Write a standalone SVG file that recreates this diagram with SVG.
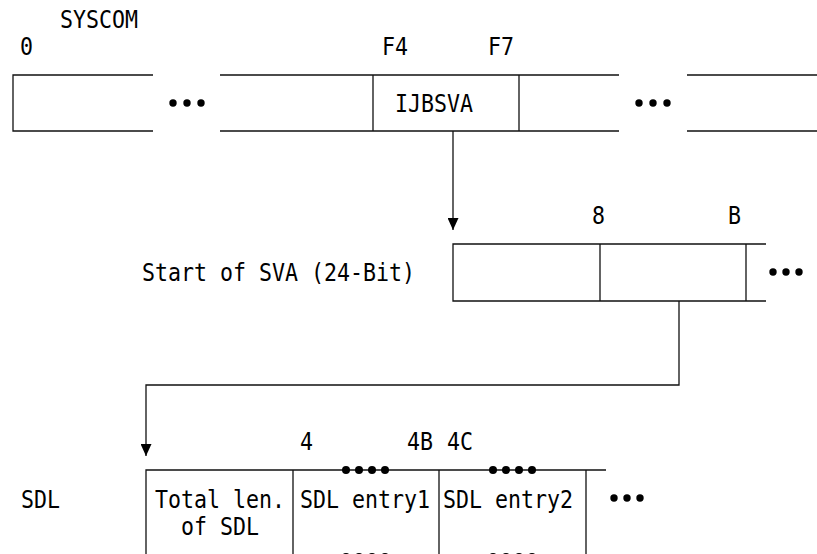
<svg xmlns="http://www.w3.org/2000/svg" width="817" height="554" viewBox="0 0 817 554">
<style>
.t{font-family:"DejaVu Sans Mono","Liberation Mono",monospace;font-size:24px;fill:#000}
.ln{stroke:#111;stroke-width:1.3;fill:none}
.dot{fill:#000}
</style>
<defs>
<marker id="arr" viewBox="0 0 12 11" refX="12" refY="5.5" markerWidth="12" markerHeight="11" markerUnits="userSpaceOnUse" orient="auto">
<path d="M0,0 L12,5.5 L0,11 z" fill="#000"/>
</marker>
</defs>
<rect width="817" height="554" fill="#fff"/>

<g id="syscom">
<text class="t" transform="translate(60,28) scale(0.9,1)">SYSCOM</text>
<text class="t" transform="translate(20,55) scale(0.9,1)">0</text>
<text class="t" transform="translate(382,55) scale(0.9,1)">F4</text>
<text class="t" transform="translate(488,55) scale(0.9,1)">F7</text>
<path class="ln" d="M153,75 H13 V131 H153 M220,75 H619 M220,131 H619 M373,75 V131 M519,75 V131 M687,75 H817 M687,131 H817"/>
<circle class="dot" cx="173" cy="103" r="3.7"/><circle class="dot" cx="187" cy="103" r="3.7"/><circle class="dot" cx="201" cy="103" r="3.7"/>
<circle class="dot" cx="639" cy="103" r="3.7"/><circle class="dot" cx="653" cy="103" r="3.7"/><circle class="dot" cx="667" cy="103" r="3.7"/>
<text class="t" transform="translate(395,112) scale(0.9,1)">IJBSVA</text>
</g>

<g id="sva">
<text class="t" transform="translate(142,281) scale(0.9,1)">Start of SVA (24-Bit)</text>
<text class="t" transform="translate(592,224) scale(0.9,1)">8</text>
<text class="t" transform="translate(728,224) scale(0.9,1)">B</text>
<path class="ln" d="M766,244 H453 V301 H766 M600,244 V301 M746,244 V301"/>
<circle class="dot" cx="773" cy="272" r="3.7"/><circle class="dot" cx="786" cy="272" r="3.7"/><circle class="dot" cx="799" cy="272" r="3.7"/>
</g>

<g id="sdl">
<text class="t" transform="translate(21,508) scale(0.9,1)">SDL</text>
<text class="t" transform="translate(300,450) scale(0.9,1)">4</text>
<text class="t" transform="translate(407,450) scale(0.9,1)">4B</text>
<text class="t" transform="translate(447,450) scale(0.9,1)">4C</text>
<path class="ln" d="M606,470 H146 V560 M293,470 V560 M439,470 V560 M586,470 V560 M146,557 H606"/>
<text class="t" transform="translate(155,508) scale(0.9,1)">Total len.</text>
<text class="t" transform="translate(181,535) scale(0.9,1)">of SDL</text>
<text class="t" transform="translate(300,508) scale(0.9,1)">SDL entry1</text>
<text class="t" transform="translate(443,508) scale(0.9,1)">SDL entry2</text>
<g class="dot">
<circle cx="346" cy="470" r="4"/><circle cx="359" cy="470" r="4"/><circle cx="372" cy="470" r="4"/><circle cx="385" cy="470" r="4"/>
<circle cx="493" cy="470" r="4"/><circle cx="506" cy="470" r="4"/><circle cx="519" cy="470" r="4"/><circle cx="532" cy="470" r="4"/>
<circle cx="346" cy="557" r="4"/><circle cx="359" cy="557" r="4"/><circle cx="372" cy="557" r="4"/><circle cx="385" cy="557" r="4"/>
<circle cx="493" cy="557" r="4"/><circle cx="506" cy="557" r="4"/><circle cx="519" cy="557" r="4"/><circle cx="532" cy="557" r="4"/>
<circle cx="614" cy="498" r="3.7"/><circle cx="627" cy="498" r="3.7"/><circle cx="640" cy="498" r="3.7"/>
</g>
</g>

<g id="connectors">
<path class="ln" d="M453,131 V230" marker-end="url(#arr)"/>
<path class="ln" d="M679,301 V385 H146 V456" marker-end="url(#arr)"/>
</g>
</svg>
